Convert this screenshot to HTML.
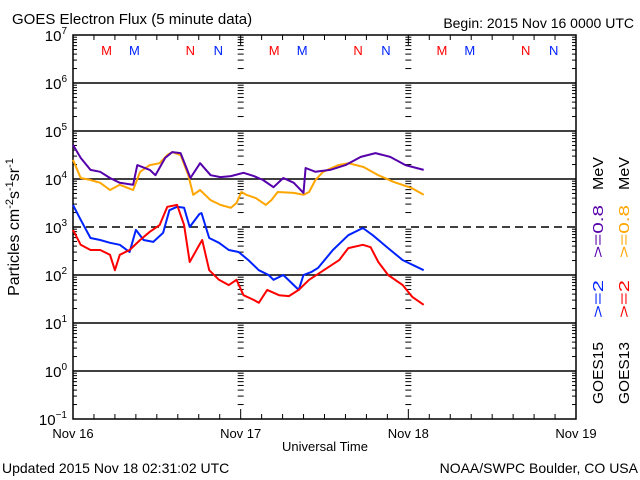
<!DOCTYPE html>
<html><head><meta charset="utf-8"><style>
html,body{margin:0;padding:0;background:#fff;}
svg{display:block;font-family:"Liberation Sans",sans-serif;}
</style></head><body>
<svg id="chart" width="640" height="480" viewBox="0 0 640 480">
<text x="12" y="24" font-size="15">GOES Electron Flux (5 minute data)</text>
<text x="634" y="28" font-size="14" text-anchor="end">Begin: 2015 Nov 16 0000 UTC</text>
<text x="325" y="451" font-size="13" text-anchor="middle">Universal Time</text>
<text x="2" y="473" font-size="14">Updated 2015 Nov 18 02:31:02 UTC</text>
<text x="638" y="473" font-size="14" text-anchor="end">NOAA/SWPC Boulder, CO USA</text>
<text transform="translate(19,227) rotate(-90)" font-size="16" text-anchor="middle">Particles cm<tspan dy="-6" font-size="11">-2</tspan><tspan dy="6">s</tspan><tspan dy="-6" font-size="11">-1</tspan><tspan dy="6">sr</tspan><tspan dy="-6" font-size="11">-1</tspan></text>
<g font-size="15">
<text transform="translate(603,404) rotate(-90)" textLength="62" lengthAdjust="spacingAndGlyphs">GOES15</text>
<text transform="translate(603,318) rotate(-90)" fill="#0022ff" textLength="38" lengthAdjust="spacingAndGlyphs">&gt;=2</text>
<text transform="translate(603,258) rotate(-90)" fill="#5500aa" textLength="53" lengthAdjust="spacingAndGlyphs">&gt;=0.8</text>
<text transform="translate(603,190) rotate(-90)" textLength="33" lengthAdjust="spacingAndGlyphs">MeV</text>
</g>
<g font-size="15">
<text transform="translate(629,404) rotate(-90)" textLength="62" lengthAdjust="spacingAndGlyphs">GOES13</text>
<text transform="translate(629,318) rotate(-90)" fill="#ff0000" textLength="38" lengthAdjust="spacingAndGlyphs">&gt;=2</text>
<text transform="translate(629,258) rotate(-90)" fill="#ffa500" textLength="53" lengthAdjust="spacingAndGlyphs">&gt;=0.8</text>
<text transform="translate(629,190) rotate(-90)" textLength="33" lengthAdjust="spacingAndGlyphs">MeV</text>
</g>
<g id="grid"></g>
<g id="series"></g>
<g id="marks"></g>
</svg>
<script>
const dayLabels=["Nov 16","Nov 17","Nov 18","Nov 19"];
const decadeExps=[-1,0,1,2,3,4,5,6,7];
const p15hiT=[0,1.1,2.5,3.9,5.3,6.7,8.6,9.2,11,11.8,13.2,14.2,15.4,16.8,18.2,19.7,21.1,22.6,24.4,25.9,27.2,28.7,30.1,31.6,33,33.3,34.7,36.8,39,41.2,43.3,45.4,47.6,50.2];
const p15hiV=[4.71,4.44,4.19,4.15,4.02,3.92,3.88,4.29,4.19,4.08,4.44,4.56,4.54,4.02,4.33,4.08,4.04,4.06,4.13,4.06,3.98,3.83,4.02,3.92,3.71,4.23,4.15,4.19,4.29,4.46,4.54,4.46,4.29,4.19];
const p13hiT=[0,1.1,2.5,3.9,5.3,6.7,8.6,9.6,11,12.4,13.5,14.2,15.4,16.5,17.2,18.2,18.9,19.7,21.1,22.6,23.4,24.1,24.8,26.2,27.6,28.4,29.3,31.6,33,33.8,34.7,35.8,38,39.4,41.6,43.7,45.9,48.5,50.2];
const p13hiV=[4.40,4.02,3.98,3.92,3.77,3.88,3.77,4.15,4.29,4.33,4.50,4.56,4.50,4.08,3.67,3.77,3.67,3.56,3.46,3.40,3.50,3.73,3.67,3.60,3.46,3.56,3.73,3.71,3.67,3.73,3.98,4.15,4.29,4.33,4.25,4.08,3.94,3.81,3.67];
const p15loT=[0,1.1,2.5,3.9,5.3,6.7,8.1,9,10.1,11.5,12.9,13.8,14.9,15.9,16.7,18.1,18.4,19.5,20.9,22.3,23.7,25.1,26.6,28,28.7,30.1,31.6,32.3,33,34.1,35.1,37.2,39.4,41.5,42.9,45.1,47.2,50.2];
const p15loV=[3.46,3.15,2.77,2.73,2.67,2.63,2.48,2.94,2.73,2.69,2.88,3.35,3.42,3.40,3.00,3.27,3.29,2.77,2.67,2.52,2.48,2.31,2.10,2.00,1.90,2.00,1.79,1.69,2.00,2.06,2.15,2.52,2.83,2.98,2.83,2.56,2.31,2.10];
const p13loT=[0,1.1,2.5,3.9,5.3,6,6.7,8.1,9.6,11,12.4,13.5,14.9,15.9,16.7,18.1,18.5,19.5,20.9,22.3,23.4,24.4,25.9,26.6,27.8,29.5,30.9,32.3,33.8,35.9,38.1,39.4,41.5,42.6,43.7,45.1,47.2,48.6,50.2];
const p13loV=[2.94,2.63,2.52,2.52,2.42,2.10,2.42,2.52,2.73,2.90,3.04,3.42,3.46,3.04,2.27,2.63,2.73,2.10,1.90,1.79,1.90,1.58,1.48,1.42,1.69,1.58,1.56,1.69,1.90,2.10,2.31,2.56,2.63,2.58,2.27,2.00,1.79,1.54,1.38];
const markerLabels=["M","M","N","N"];
const markerHours=[4.8,8.8,16.8,20.8];

const L=73,R=576,TOP=35,BOT=419;
const xs=h=>L+(R-L)*h/72;
const ys=e=>TOP+(7-e)*(BOT-TOP)/8;
const NS="http://www.w3.org/2000/svg";
function mk(tag,attrs,parent){const el=document.createElementNS(NS,tag);for(const k in attrs)el.setAttribute(k,attrs[k]);parent.appendChild(el);return el;}
const grid=document.getElementById('grid'),ser=document.getElementById('series'),marks=document.getElementById('marks');

const fr=mk('rect',{x:L,y:TOP,width:R-L,height:BOT-TOP,fill:'none',stroke:'#000','stroke-width':1.5},grid);


decadeExps.forEach(e=>{
  const y=ys(e);
  if(e>-1&&e<7){const ln=mk('line',{x1:L,x2:R,y1:y,y2:y,stroke:'#000','stroke-width':1.5},grid);
    if(e===3)ln.setAttribute('stroke-dasharray','8,5');
    
    }
  const t=mk('text',{x:L-6,y:y+6,'font-size':15,'text-anchor':'end'},grid);
  t.textContent='10';const s=mk('tspan',{dy:-7,'font-size':10},t);s.textContent=String(e).replace('-','\u2212');
  
  
  if(e<7){for(let m=2;m<=9;m++){const yy=ys(e+Math.log10(m));
    mk('line',{x1:L,x2:L+4,y1:yy,y2:yy,stroke:'#000'},grid);
    mk('line',{x1:R-4,x2:R,y1:yy,y2:yy,stroke:'#000'},grid);
    [1,2].forEach(d=>{const xx=xs(24*d);mk('line',{x1:xx-3,x2:xx+3,y1:yy,y2:yy,stroke:'#000'},grid);});}}
});
for(let h=3;h<72;h+=3){const x=xs(h);const l=(h%24===0)?10:5;mk('line',{x1:x,x2:x,y1:BOT,y2:BOT-l,stroke:'#000'},grid);mk('line',{x1:x,x2:x,y1:TOP,y2:TOP+l,stroke:'#000'},grid);}
dayLabels.forEach((d,i)=>{const t=mk('text',{x:xs(24*i),y:438,'font-size':13,'text-anchor':'middle'},grid);t.textContent=d;
  
  });

function line(T,V,color,name){const pts=T.map((h,i)=>xs(h).toFixed(1)+','+ys(V[i]).toFixed(1)).join(' ');
  const p=mk('polyline',{points:pts,fill:'none',stroke:color,'stroke-width':2,'stroke-linejoin':'round'},ser);
  
  }
line(p13hiT,p13hiV,'#ffa500','goes13-ge0.8-line');
line(p15hiT,p15hiV,'#5500aa','goes15-ge0.8-line');
line(p15loT,p15loV,'#0022ff','goes15-ge2-line');
line(p13loT,p13loV,'#ff0000','goes13-ge2-line');

for(let d=0;d<3;d++){markerHours.forEach((h,i)=>{const t=mk('text',{x:xs(h+24*d),y:55,'font-size':13,'text-anchor':'middle',fill:(i%2===0)?'#ff0000':'#0022ff'},marks);
  t.textContent=markerLabels[i];
  
  });}
</script>
</body></html>
